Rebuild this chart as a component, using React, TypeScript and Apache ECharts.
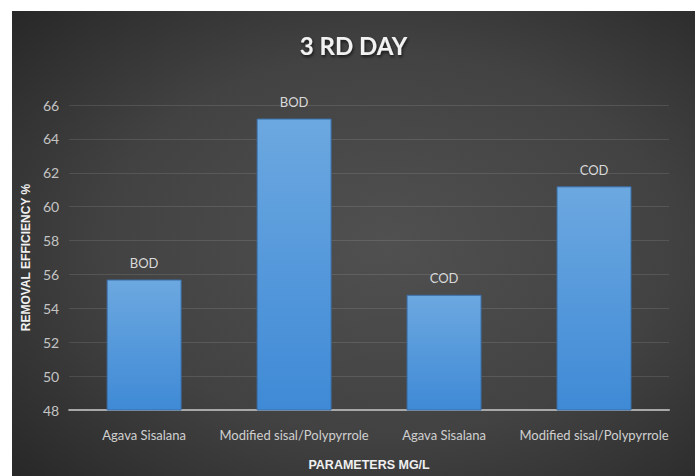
import React, { useEffect, useRef } from "react";
import * as echarts from "echarts";

// Removal efficiency on the third day, per adsorbent and parameter
const categories = [
  "Agava Sisalana",
  "Modified sisal/Polypyrrole",
  "Agava Sisalana",
  "Modified sisal/Polypyrrole",
];
const parameters = ["BOD", "BOD", "COD", "COD"];
const efficiency = [55.7, 65.2, 54.8, 61.2];

const body = "Lato, 'DejaVu Sans Condensed', sans-serif";
const heading = "'Liberation Sans', Arial, sans-serif";

export default function App() {
  const ref = useRef<HTMLDivElement>(null);

  useEffect(() => {
    if (!ref.current) return;
    const chart = echarts.init(ref.current, null, { renderer: "svg" });
    chart.setOption({
      animation: false,
      backgroundColor: new echarts.graphic.RadialGradient(0.55, 0.5, 0.75, [
        { offset: 0, color: "#505050" },
        { offset: 0.55, color: "#424242" },
        { offset: 1, color: "#272727" },
      ]),
      title: {
        text: "3 RD DAY",
        left: "center",
        top: 17,
        textStyle: {
          color: "#f2f2f2",
          fontFamily: body,
          fontWeight: "bold",
          fontSize: 24,
          textShadowColor: "rgba(0,0,0,0.65)",
          textShadowBlur: 3,
          textShadowOffsetX: 1,
          textShadowOffsetY: 2,
        },
      },
      grid: { left: 41.5, right: 26, top: 94, bottom: 63 },
      xAxis: {
        type: "category",
        data: categories,
        name: "PARAMETERS MG/L",
        nameLocation: "middle",
        nameGap: 48,
        nameTextStyle: {
          color: "#f0f0f0",
          fontFamily: heading,
          fontWeight: "bold",
          fontSize: 12.5,
        },
        axisLine: { lineStyle: { color: "#a8a8a8", width: 2 } },
        axisTick: { show: false },
        axisLabel: {
          color: "#d0d0d0",
          fontFamily: body,
          fontSize: 13,
          margin: 18,
          interval: 0,
        },
      },
      yAxis: {
        type: "value",
        min: 48,
        max: 66,
        interval: 2,
        name: "REMOVAL EFFICIENCY %",
        nameLocation: "middle",
        nameRotate: 90,
        nameGap: 35,
        nameTextStyle: {
          color: "#f0f0f0",
          fontFamily: heading,
          fontWeight: "bold",
          fontSize: 12,
        },
        axisLine: { show: false },
        axisTick: { show: false },
        axisLabel: {
          color: "#c4c4c4",
          fontFamily: body,
          fontSize: 14,
          margin: 10,
        },
        splitLine: { lineStyle: { color: "rgba(255,255,255,0.11)", width: 1 } },
      },
      series: [
        {
          type: "bar",
          data: efficiency,
          barWidth: "50%",
          itemStyle: {
            color: new echarts.graphic.LinearGradient(0, 0, 0, 1, [
              { offset: 0, color: "#6ca8e0" },
              { offset: 1, color: "#3f8ad6" },
            ]),
            borderColor: "#3b6ea6",
            borderWidth: 1,
          },
          label: {
            show: true,
            position: "top",
            distance: 10,
            color: "#d9d9d9",
            fontFamily: body,
            fontSize: 13,
            formatter: (p: { dataIndex: number }) => parameters[p.dataIndex],
          },
        },
      ],
    });
    return () => chart.dispose();
  }, []);

  return (
    <div
      style={{
        position: "absolute",
        left: 0,
        top: 0,
        width: 699,
        height: 476,
        background: "#ffffff",
      }}
    >
      <div
        ref={ref}
        style={{ position: "absolute", left: 12, top: 11, width: 683, height: 465 }}
      />
    </div>
  );
}
